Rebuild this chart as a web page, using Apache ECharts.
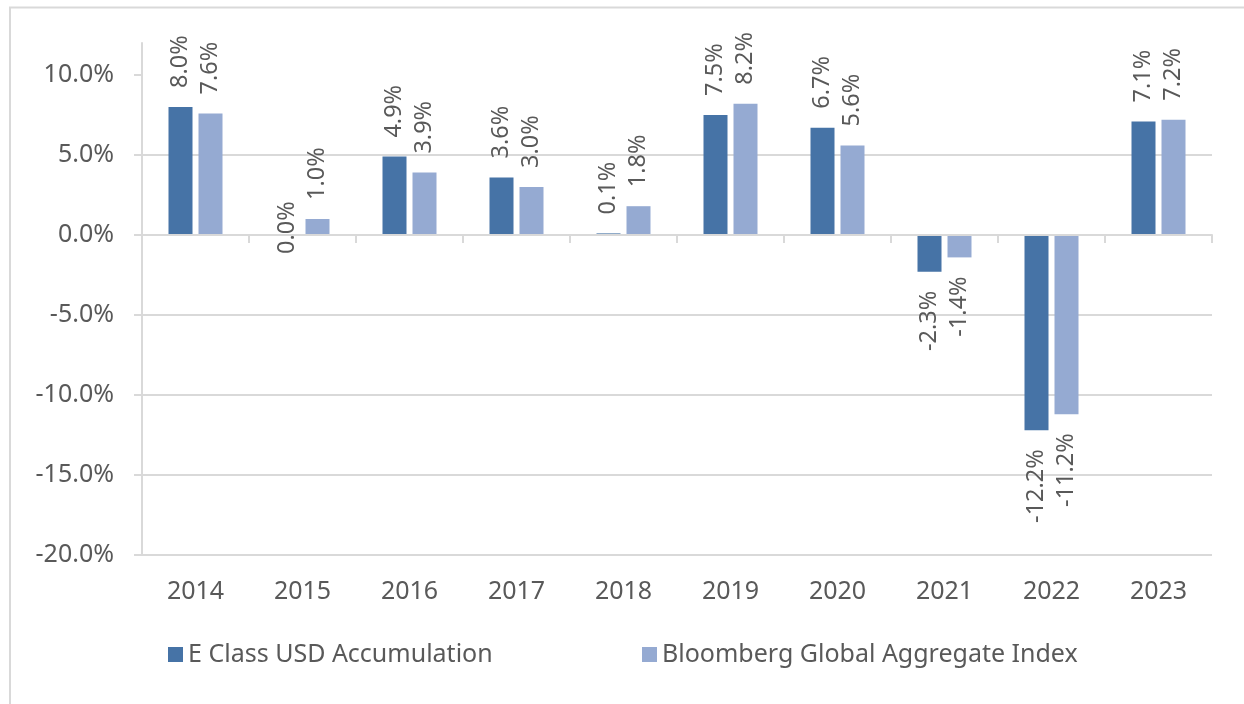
<!DOCTYPE html>
<html>
<head>
<meta charset="utf-8">
<script src="https://cdn.jsdelivr.net/npm/echarts@6.0.0/dist/echarts.min.js"></script>
<style>
  html, body { margin: 0; padding: 0; background: #fff; }
  #chart { width: 1244px; height: 704px; }
</style>
</head>
<body>
<div id="chart"></div>
<script>
const years = ['2014', '2015', '2016', '2017', '2018', '2019', '2020', '2021', '2022', '2023'];
const eClass = [8.0, 0.0, 4.9, 3.6, 0.1, 7.5, 6.7, -2.3, -12.2, 7.1];
const bloomberg = [7.6, 1.0, 3.9, 3.0, 1.8, 8.2, 5.6, -1.4, -11.2, 7.2];
const yTicks = [-20, -15, -10, -5, 0, 5, 10];
const seriesNames = ['E Class USD Accumulation', 'Bloomberg Global Aggregate Index'];

const textColor = '#595959';
const lineColor = '#d9d9d9';
const font = 'Noto Sans';

// labels read upward from the bar end, below the bar when negative
function barData(values) {
  return values.map(v => ({
    value: v,
    label: { align: v < 0 ? 'right' : 'left' }
  }));
}

function barSeries(name, values, color) {
  return {
    name: name,
    type: 'bar',
    xAxisIndex: 0,
    data: barData(values),
    barWidth: 24,
    barGap: '25%',
    itemStyle: { color: color },
    label: {
      show: true,
      position: 'outside',
      rotate: 90,
      verticalAlign: 'middle',
      distance: 19,
      color: textColor,
      fontFamily: font,
      fontSize: 23.5,
      formatter: p => p.value.toFixed(1) + '%'
    }
  };
}

const chart = echarts.init(document.getElementById('chart'), null, { renderer: 'canvas' });

chart.setOption({
  animation: false,
  backgroundColor: '#fff',
  graphic: [{
    type: 'polyline',
    shape: { points: [[10, 704], [10, 7.5], [1244, 7.5]] },
    style: { stroke: lineColor, lineWidth: 2, fill: null }
  }],
  grid: { left: 142, right: 32, top: 43, bottom: 149 },
  legend: [{
    data: [seriesNames[0]],
    left: 163, top: 637,
    itemWidth: 15, itemHeight: 15, itemGap: 0,
    icon: 'rect',
    textStyle: { color: textColor, fontFamily: font, fontSize: 25 }
  }, {
    data: [seriesNames[1]],
    left: 637, top: 637,
    itemWidth: 15, itemHeight: 15, itemGap: 0,
    icon: 'rect',
    textStyle: { color: textColor, fontFamily: font, fontSize: 25 }
  }],
  xAxis: [{
    type: 'category',
    data: years,
    position: 'bottom',
    z: 3,
    axisLine: { onZero: true, lineStyle: { color: lineColor, width: 2 } },
    axisTick: { show: true, length: 8, lineStyle: { color: lineColor, width: 2 } },
    axisLabel: { show: false }
  }, {
    type: 'category',
    data: years,
    position: 'bottom',
    axisLine: { show: false, onZero: false },
    axisTick: { show: false },
    axisLabel: { margin: 24, color: textColor, fontFamily: font, fontSize: 25 }
  }],
  yAxis: {
    type: 'value',
    min: -20,
    max: 12,
    interval: 5,
    axisLine: { show: true, lineStyle: { color: lineColor, width: 2 } },
    axisTick: { show: true, length: 8, customValues: yTicks, lineStyle: { color: lineColor, width: 2 } },
    axisLabel: {
      customValues: yTicks,
      margin: 28,
      color: textColor,
      fontFamily: font,
      fontSize: 25,
      formatter: v => v.toFixed(1) + '%'
    },
    splitLine: { show: true, showMaxLine: false, lineStyle: { color: lineColor, width: 2 } }
  },
  series: [
    barSeries(seriesNames[0], eClass, '#4673a6'),
    barSeries(seriesNames[1], bloomberg, '#95aad2')
  ]
});
</script>
</body>
</html>
